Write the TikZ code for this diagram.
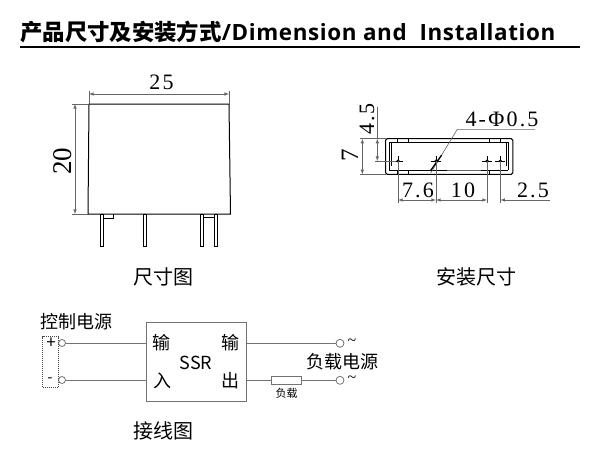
\documentclass[tikz,border=0pt]{standalone}
\usepackage{fontspec}
\setmainfont{Liberation Serif}
\newfontfamily\cjk{Noto Sans CJK SC}
\newfontfamily\titlefont[LetterSpace=2.8]{Open Sans}
\newfontfamily\dimfont[LetterSpace=10]{Liberation Serif}
\usetikzlibrary{positioning}
\tikzset{
  dimline/.style={draw=black!60,line width=0.6pt},
  dimarrow/.style={dimline,latex-latex},
  part/.style={draw=black,line width=1pt},
  caption/.style={font=\cjk\fontsize{20}{22}\selectfont,inner sep=0pt},
  dimtext/.style={font=\dimfont\fontsize{22}{24}\selectfont,inner sep=0pt},
  wire/.style={draw=black!55,line width=0.9pt},
  port/.style={circle,draw=black!55,line width=0.8pt,fill=white,minimum size=8pt,inner sep=0pt},
  boxtext/.style={font=\cjk\fontsize{18}{20}\selectfont,inner sep=0pt},
  hole/.style={circle,fill=black,inner sep=0pt,minimum size=3.5pt}
}
\begin{document}
\begin{tikzpicture}[x=1pt,y=-1pt]
\useasboundingbox (0,0) rectangle (600,461);

% title
\node[anchor=west,inner sep=0pt,font=\bfseries\fontsize{22.4}{24}\selectfont] (title) at (20,32) {{\cjk 产品尺寸及安装方式}{\titlefont /Dimension and \ Installation}};
\coordinate (rulea) at (20,47);
\coordinate (ruleb) at (580,47);
\draw[line width=2.2pt] (rulea) -- (ruleb);

% side view
\draw[part] (89,104) -- (229,104) -- (230.5,214) -- (88,214) -- cycle;
\foreach \x in {102,145,202,216}
  \draw[line width=0.7pt,fill=white] (\x-1.7,214) rectangle (\x+1.7,246);
\draw[line width=0.7pt] (103.7,218) -- (113.3,218) -- (113.3,214);
\draw[line width=0.7pt] (203.7,217) -- (214.3,217);
\coordinate (wa) at (89,94);
\coordinate (wb) at (229,94);
\coordinate (ha) at (75,104);
\coordinate (hb) at (75,214);
\draw[dimarrow] (wa) -- (wb);
\draw[dimline] (wa)+(0,-3) -- (89,104);
\draw[dimline] (wb)+(0,-3) -- (229,104);
\draw[dimarrow] (ha) -- (hb);
\draw[dimline] (ha)+(-3,0) -- (89,104);
\draw[dimline] (hb)+(-3,0) -- (88,214);
\node[dimtext] (widthlabel) at (161.5,82) {25};
\node[dimtext,rotate=90,font=\rmfamily\fontsize{27}{29}\selectfont] (heightlabel) at (63,161) {20};
\node[caption] (sidecap) at (163,277) {尺寸图};

% bottom view
\draw[part,rounded corners=1.5pt] (385.7,138.7) rectangle (512.8,174.3);
\draw[line width=0.7pt] (389.3,170.3) -- (389.3,142.3) -- (508.3,142.3) -- (508.3,170.3);
\draw[line width=0.7pt] (391.7,165.7) -- (391.7,142.3);
\draw[line width=0.7pt] (506,165.7) -- (506,142.3);
\draw[dimline] (389.3,170.3) -- (508.3,170.3);
\draw[line width=1.2pt] (389.3,170.3) -- (447,170.3);
\draw[line width=1.2pt] (481,170.3) -- (508.3,170.3);
\foreach \x in {397.7,489.3} {
  \draw[line width=0.7pt] (\x,138.7) rectangle (\x+10.7,142.3);
  \draw[line width=0.7pt] (\x,170.7) rectangle (\x+10.7,174.3);
}
\node[hole] (h1) at (398,161) {};
\node[hole] (h2) at (436,161) {};
\node[hole] (h3) at (487,161) {};
\node[hole] (h4) at (500.3,161) {};
\foreach \n in {h1,h2,h3,h4} {
  \draw[line width=0.5pt] (\n)+(-5,0) -- +(5,0);
  \draw[line width=0.5pt] (\n)+(0,-5) -- +(0,5);
}
\coordinate (leada) at (430.7,173);
\coordinate (leadb) at (457.3,129.3);
\coordinate (leadc) at (535,129.3);
\draw[dimline] (leada) -- (leadb) -- (leadc);
\draw[line width=1.3pt] (430.5,170.7) -- (441.7,155);
\node[dimtext] (holelabel) at (502,119) {4-Φ0.5};
% dimensions of the bottom view
\coordinate (da) at (398,200);
\coordinate (db) at (436,200);
\coordinate (dc) at (487,200);
\coordinate (dd) at (500.3,200);
\coordinate (de) at (550,200);
\foreach \c in {da,db,dc,dd}
  \draw[dimline] (\c)+(0,3) -- (\c |- h1);
\draw[dimarrow] (da) -- (db);
\draw[dimarrow] (db) -- (dc);
\draw[dimline,latex-] (dd) -- (de);
\node[dimtext] (la) at (418,190) {7.6};
\node[dimtext] (lb) at (463,190) {10};
\node[dimtext] (lc) at (533,190) {2.5};
\coordinate (sa) at (377.3,138.7);
\coordinate (sb) at (377.3,161);
\coordinate (ta) at (362.3,138.7);
\coordinate (tb) at (362.3,174.3);
\draw[dimarrow] (sa) -- (sb);
\draw[dimline] (377.3,106.7) -- (sa);
\draw[dimline] (375,138.7) -- (385.7,138.7);
\draw[dimline] (375,161) -- (h1);
\draw[dimarrow] (ta) -- (tb);
\draw[dimline] (360,138.7) -- (385.7,138.7);
\draw[dimline] (360,174.3) -- (385.7,174.3);
\node[dimtext,rotate=90] (slabel) at (367,119) {4.5};
\node[dimtext,rotate=90,font=\rmfamily\fontsize{25}{27}\selectfont] (tlabel) at (350,155) {7};
\node[caption] (bottomcap) at (476.5,277) {安装尺寸};

% wiring
\node[wire,minimum width=100.7pt,minimum height=79.4pt,inner sep=0pt] (ssr) at (196.3,362) {};
\node[boxtext] (ina) at (161.5,343) {输};
\node[boxtext] (inb) at (162,381) {入};
\node[boxtext] (outa) at (230,343) {输};
\node[boxtext] (outb) at (230,381) {出};
\node[inner sep=0pt,font=\cjk\fontsize{18}{20}\selectfont] (ssrlabel) at (196,363) {SSR};
\node[port,minimum size=7pt] (pa) at (62,343) {};
\node[port,minimum size=7pt] (pb) at (62,380) {};
\node[port] (qa) at (340,343.3) {};
\node[port] (qb) at (340,380.3) {};
\draw[wire] (pa) -- (pa -| ssr.west);
\draw[wire] (pb) -- (pb -| ssr.west);
\draw[wire] (qa -| ssr.east) -- (qa);
\node[wire,fill=white,minimum width=30pt,minimum height=7.4pt,inner sep=0pt] (load) at (286.7,380.3) {};
\draw[wire] (load -| ssr.east) -- (load);
\draw[wire] (load) -- (qb);
\node[draw=black!70,densely dotted,line width=1pt,minimum width=16pt,minimum height=50.5pt,inner sep=0pt] (supply) at (50.7,362.2) {};
\node[inner sep=0pt,font=\cjk\fontsize{17}{19}\selectfont] (plus) at (51,343) {+};
\node[inner sep=0pt,font=\cjk\fontsize{15}{17}\selectfont] (minus) at (50,380) {-};
\node[inner sep=0pt,font=\fontsize{16}{18}\selectfont] (ta1) at (352,342.5) {\textasciitilde};
\node[inner sep=0pt,font=\fontsize{16}{18}\selectfont] (tb1) at (352,379.5) {\textasciitilde};
\node[caption,font=\cjk\fontsize{18}{20}\selectfont] (ctrlcap) at (76,322) {控制电源};
\node[caption,font=\cjk\fontsize{18}{20}\selectfont] (loadcap) at (342,361.7) {负载电源};
\node[inner sep=0pt,font=\cjk\fontsize{11}{13}\selectfont] (loadlabel) at (286.7,393) {负载};
\node[caption] (wirecap) at (163,431) {接线图};
\end{tikzpicture}
\end{document}
